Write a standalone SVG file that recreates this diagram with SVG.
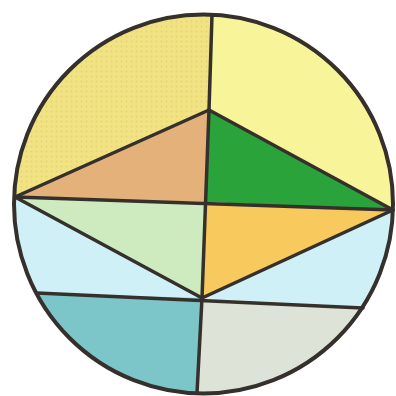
<svg xmlns="http://www.w3.org/2000/svg" width="396" height="396" viewBox="0 0 396 396">
<defs>
<clipPath id="disc"><circle cx="203.5" cy="204" r="189.5"/></clipPath>
<pattern id="dots" width="5" height="5" patternUnits="userSpaceOnUse">
<rect width="5" height="5" fill="#F1E383"/>
<circle cx="1.5" cy="1.5" r="0.9" fill="#E6D56E"/>
</pattern>
<style>
.ln{stroke:#35302c;stroke-width:3.5;stroke-linecap:round;fill:none}
</style>
</defs>
<rect width="396" height="396" fill="#ffffff"/>
<g clip-path="url(#disc)">
<g id="top-left"><polygon points="0,0 212,0 212,15 209,110 15,197 0,197" fill="url(#dots)"/></g>
<g id="top-right"><polygon points="212,0 396,0 396,210 393,210 209,110 212,15" fill="#F8F49A"/></g>
<g id="brown"><polygon points="209,110 15,197 205,202" fill="#E3B179"/></g>
<g id="green"><polygon points="209,110 205,202 393,210" fill="#2BA33B"/></g>
<g id="light-green"><polygon points="15,197 205,202 202,298" fill="#CEEBC0"/></g>
<g id="orange"><polygon points="205,202 393,210 202,298" fill="#F8C95C"/></g>
<g id="cyan-left"><polygon points="0,197 15,197 202,298 37,293 0,292" fill="#CFF0F6"/></g>
<g id="cyan-right"><polygon points="393,210 396,210 396,310 363,308 202,298" fill="#CFF0F6"/></g>
<g id="teal"><polygon points="0,292 37,293 202,298 197,396 0,396" fill="#7CC5C8"/></g>
<g id="gray"><polygon points="202,298 363,308 396,310 396,396 197,396" fill="#DDE3D6"/></g>
</g>
<g id="connectors">
<line class="ln" x1="212" y1="15" x2="209" y2="110"/>
<line class="ln" x1="209" y1="110" x2="15" y2="197"/>
<line class="ln" x1="209" y1="110" x2="393" y2="210"/>
<line class="ln" x1="15" y1="197" x2="393" y2="210"/>
<line class="ln" x1="209" y1="110" x2="202" y2="298"/>
<line class="ln" x1="15" y1="197" x2="202" y2="298"/>
<line class="ln" x1="393" y1="210" x2="202" y2="298"/>
<line class="ln" x1="37" y1="293" x2="363" y2="308"/>
<line class="ln" x1="202" y1="298" x2="197" y2="393"/>
<circle class="ln" cx="203.5" cy="204" r="189.5" style="stroke-width:4"/>
</g>
</svg>
